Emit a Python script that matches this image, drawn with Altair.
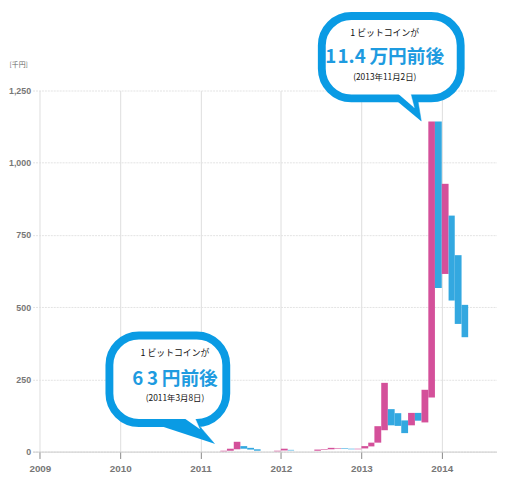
import altair as alt
import pandas as pd

# ---- monthly bars (open / close) ----
months = ["2011-04", "2011-05", "2011-06", "2011-07", "2011-08", "2011-09",
          "2011-12", "2012-01", "2012-02", "2012-06", "2012-07", "2012-08",
          "2012-09", "2012-10", "2012-11", "2012-12",
          "2013-01", "2013-02", "2013-03", "2013-04", "2013-05", "2013-06",
          "2013-07", "2013-08", "2013-09", "2013-10", "2013-11", "2013-12",
          "2014-01", "2014-02", "2014-03", "2014-04"]
opens = [1, 3, 8, 19, 13, 8,
         1, 4, 6, 3, 6, 8,
         10, 11, 10, 8,
         11, 18, 31, 74, 147, 133,
         108, 91, 134, 101, 187, 1143,
         615, 817, 680, 508]
closes = [3, 10, 34, 10, 7, 3,
          3, 10, 4, 7, 8, 13,
          12, 9, 8, 10,
          19, 31, 88, 238, 91, 89,
          64, 134, 107, 214, 1143, 566,
          927, 523, 442, 396]

PINK = "#D4509A"
BLUE = "#33A8E0"
BUBBLE = "#0A9BE4"

df = pd.DataFrame({"start": pd.to_datetime([m + "-01" for m in months]),
                   "open": opens, "close": closes})
df["end"] = df["start"] + pd.offsets.MonthBegin(1)
df["dir"] = ["up" if c >= o else "down" for o, c in zip(opens, closes)]

# ---- annotation anchors (date, value) ----
b1_x = ["2012-07-05", "2014-03-28"]
b1_y = [1508, 1223]
b2_x = ["2009-11-13", "2011-04-28"]
b2_y = [402, 99]
tail1_x = ["2013-05-05", "2013-09-10", "2013-09-30"]
tail1_y = [1237, 1237, 1144]
notch1_x = ["2013-06-10", "2013-08-11", "2013-08-29"]
notch1_y = [1243, 1243, 1190]
tail2_x = ["2010-06-20", "2010-12-15", "2011-03-06"]
tail2_y = [92, 99, 27]
notch2_x = ["2010-09-30", "2010-12-01", "2010-12-28"]
notch2_y = [126, 126, 78]

t1_x = "2013-04-17"
t1_y = [1450, 1366, 1296]
t2_x = "2010-09-07"
t2_y = [341, 250, 184]
lines1 = ["1 ビットコインが", "1\u200a1.4\u2009万円前後", "(2013年11月2日)"]
lines2 = ["1 ビットコインが", "6\u20093\u2009円前後", "(2011年3月8日)"]

year_ticks = [alt.DateTime(year=y, month=1, date=1) for y in range(2009, 2015)]

xscale = alt.Scale(domain=[alt.DateTime(year=2008, month=11, date=29),
                           alt.DateTime(year=2014, month=9, date=9)])
yscale = alt.Scale(domain=[0, 1250], nice=False, zero=True)

xaxis = alt.Axis(values=year_ticks, format="%Y", title=None, grid=True,
                 gridColor="#dddddd", tickColor="#888888", tickSize=7,
                 domainColor="#cccccc", labelColor="#777777",
                 labelFontWeight="bold", labelFontSize=10,
                 labelFont="Liberation Sans", labelPadding=5)
yaxis = alt.Axis(values=[0, 250, 500, 750, 1000, 1250], format=",.0f",
                 title="[千円]", titleAngle=0, titleAlign="left",
                 titleBaseline="middle", titleX=-24, titleY=-26,
                 titleFontSize=7, titleFontWeight="normal",
                 titleColor="#666666", titleFont="Noto Sans CJK JP",
                 grid=True, gridColor="#e2e2e2", gridDash=[2, 1],
                 domain=False, ticks=False, labelPadding=2,
                 labelColor="#777777", labelFontWeight="bold",
                 labelFontSize=9, labelFont="Liberation Sans")

bars = alt.Chart(df).mark_rect().encode(
    x=alt.X("start:T", scale=xscale, axis=xaxis),
    x2="end:T",
    y=alt.Y("open:Q", scale=yscale, axis=yaxis),
    y2="close:Q",
    color=alt.Color("dir:N", scale=alt.Scale(domain=["up", "down"],
                                             range=[PINK, BLUE]), legend=None),
)


def ts(s):
    return pd.to_datetime(s)


def bubble(xs, ys):
    d = pd.DataFrame({"start": [ts(xs[0])], "end": [ts(xs[1])],
                      "open": [ys[0]], "close": [ys[1]]})
    return alt.Chart(d).mark_rect(fill="white", stroke=BUBBLE, strokeWidth=8,
                                  cornerRadius=30).encode(
        x="start:T", x2="end:T", y="open:Q", y2="close:Q")


def tri(xs, ys, col):
    d = pd.DataFrame({"start": [ts(v) for v in xs], "open": ys,
                      "k": list(range(len(xs)))})
    return alt.Chart(d).mark_line(fill=col, stroke=col, strokeWidth=0.5).encode(
        x="start:T", y="open:Q", order="k:Q")


def texts(x, ys, lines):
    layers = []
    styles = [(9, "normal", "#111111"), (19, "bold", "#1E9BE0"),
              (8.5, "normal", "#111111")]
    for yv, txt, (fs, fw, col) in zip(ys, lines, styles):
        d = pd.DataFrame({"start": [ts(x)], "open": [yv], "t": [txt]})
        layers.append(alt.Chart(d).mark_text(
            font="Noto Sans CJK JP", fontSize=fs, fontWeight=fw, color=col,
            align="center", baseline="middle").encode(
            x="start:T", y="open:Q", text="t:N"))
    return layers


chart = alt.layer(
    bars,
    tri(tail2_x, tail2_y, BUBBLE),
    bubble(b2_x, b2_y),
    tri(notch2_x, notch2_y, "white"),
    *texts(t2_x, t2_y, lines2),
    tri(tail1_x, tail1_y, BUBBLE),
    bubble(b1_x, b1_y),
    tri(notch1_x, notch1_y, "white"),
    *texts(t1_x, t1_y, lines1),
).properties(
    width=472, height=367,
    autosize=alt.AutoSizeParams(type="none"),
    padding={"left": 25, "top": 80, "right": 0, "bottom": 25},
).configure_view(stroke=None)

chart.save("out.html", embed_options={"renderer": "svg", "actions": False})
